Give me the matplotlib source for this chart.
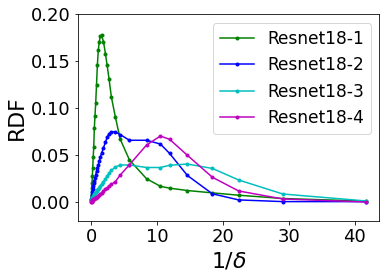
import matplotlib
matplotlib.use("Agg")
import matplotlib.pyplot as plt

x = [0.0, 0.03, 0.07, 0.11, 0.16, 0.22, 0.29, 0.37, 0.46, 0.56, 0.67, 0.79, 0.92,
     1.06, 1.21, 1.37, 1.55, 1.85, 2.15, 2.4, 2.7, 3.05, 3.65, 4.4, 5.8, 8.4,
     10.5, 11.9, 14.6, 18.4, 22.4, 29.1, 41.7]

resnet18_1 = [0.003, 0.008, 0.015, 0.021, 0.028, 0.037, 0.048, 0.059, 0.079, 0.092,
              0.106, 0.125, 0.146, 0.162, 0.171, 0.177, 0.178, 0.171, 0.158, 0.146,
              0.131, 0.112, 0.091, 0.067, 0.045, 0.025, 0.017, 0.015, 0.0125, 0.010,
              0.0075, 0.004, 0.0012]
resnet18_2 = [0.002, 0.004, 0.006, 0.008, 0.011, 0.014, 0.017, 0.020, 0.023, 0.026,
              0.029, 0.033, 0.036, 0.040, 0.044, 0.048, 0.052, 0.058, 0.064, 0.069,
              0.073, 0.075, 0.075, 0.072, 0.066, 0.066, 0.062, 0.052, 0.0285, 0.009,
              0.0025, 0.0007, 0.0007]
resnet18_3 = [0.001, 0.002, 0.003, 0.004, 0.005, 0.006, 0.007, 0.008, 0.009, 0.010,
              0.011, 0.012, 0.013, 0.014, 0.015, 0.017, 0.019, 0.022, 0.025, 0.028,
              0.031, 0.034, 0.0375, 0.0397, 0.0397, 0.037, 0.037, 0.0394, 0.0407,
              0.036, 0.0237, 0.0088, 0.0014]
resnet18_4 = [0.000, 0.0005, 0.001, 0.0015, 0.002, 0.0025, 0.003, 0.0035, 0.004,
              0.0045, 0.005, 0.0055, 0.006, 0.007, 0.008, 0.009, 0.010, 0.012, 0.014,
              0.015, 0.017, 0.019, 0.022, 0.029, 0.040, 0.061, 0.0705, 0.067, 0.050,
              0.0266, 0.012, 0.0035, 0.0003]

series = [("Resnet18-1", resnet18_1, "g"),
          ("Resnet18-2", resnet18_2, "b"),
          ("Resnet18-3", resnet18_3, "c"),
          ("Resnet18-4", resnet18_4, "m")]

yticks = [0.00, 0.05, 0.10, 0.15, 0.20]
xticks = [0, 10, 20, 30, 40]

fig = plt.figure(figsize=(386 / 72, 277 / 72), dpi=72)
ax = fig.add_axes([0.201, 0.202, 0.782, 0.746])
for name, vals, col in series:
    ax.plot(x, vals, color=col, marker=".", markersize=6, linewidth=1.5, label=name)

ax.set_ylim(-0.02, 0.20)
ax.set_yticks(yticks)
ax.set_xticks(xticks)
ax.tick_params(labelsize=18)
ax.set_ylabel("RDF", fontsize=22)
ax.set_xlabel(r"1/$\delta$", fontsize=22)
ax.legend(loc="upper right", fontsize=17)
fig.savefig("out.png", dpi=72)
